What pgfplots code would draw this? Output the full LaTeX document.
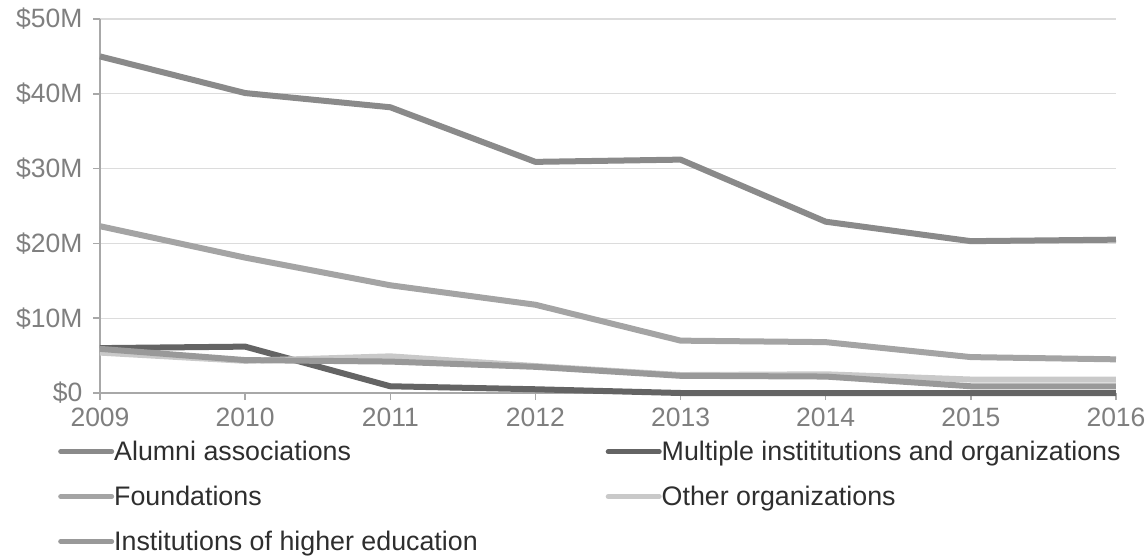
\documentclass[border=0pt]{standalone}
\usepackage{pgfplots}
\pgfplotsset{compat=1.18}
\usepackage{fontspec}
\setmainfont{Liberation Sans}

\definecolor{cAlumni}{HTML}{8A8A8A}
\definecolor{cMultiple}{HTML}{646464}
\definecolor{cFound}{HTML}{A4A4A4}
\definecolor{cOther}{HTML}{C9C9C9}
\definecolor{cInst}{HTML}{999999}
\definecolor{cGrid}{HTML}{DCDCDC}
\definecolor{cAxis}{HTML}{A8A8A8}
\definecolor{cTick}{HTML}{7F7F7F}
\definecolor{cLegend}{HTML}{2E2E2E}

\begin{document}
\begin{tikzpicture}
\begin{axis}[
  at={(0pt,0pt)}, anchor=south west,
  scale only axis,
  width=1016pt, height=374pt,
  xmin=2009, xmax=2016,
  ymin=0, ymax=50,
  clip=false,
  axis x line*=bottom,
  axis y line*=left,
  axis line style={draw=cAxis, line width=1.8pt},
  xtick={2009,2010,2011,2012,2013,2014,2015,2016},
  xticklabels={2009,2010,2011,2012,2013,2014,2015,2016},
  ytick={0,10,20,30,40,50},
  yticklabels={\$0,\$10M,\$20M,\$30M,\$40M,\$50M},
  tick align=outside,
  major tick length=7pt,
  tick style={draw=cAxis, line width=1.5pt},
  ymajorgrids,
  grid style={draw=cGrid, line width=1.3pt},
  ticklabel style={font=\fontsize{26.5}{30}\selectfont, text=cTick},
  xticklabel style={yshift=-4pt},
  yticklabel style={xshift=-7pt},
  legend columns=2,
  legend style={
    draw=none, fill=none,
    at={(-42pt,-48pt)}, anchor=north west,
    font=\fontsize{26.8}{30}\selectfont,
    text=cLegend,
    row sep=24pt,
    inner sep=0pt,
    nodes={inner sep=0pt, anchor=west},
    /tikz/column 2/.style={column sep=128pt},
  },
  legend cell align=left,
  legend image code/.code={\draw[line width=5pt, line cap=round] (0pt,0pt) -- (51pt,0pt);},
  every axis plot/.append style={line width=6pt, line join=round, mark=none},
]
% Alumni associations
\addplot[cAlumni] coordinates {
  (2009,45.0) (2010,40.1) (2011,38.2) (2012,30.9)
  (2013,31.2) (2014,22.9) (2015,20.3) (2016,20.5)};
\addlegendentry{Alumni associations}
% Multiple institutions and organizations
\addplot[cMultiple] coordinates {
  (2009,6.0) (2010,6.2) (2011,0.9) (2012,0.5)
  (2013,0.0) (2014,0.0) (2015,0.0) (2016,0.0)};
\addlegendentry{Multiple instititutions and organizations}
% Foundations
\addplot[cFound] coordinates {
  (2009,22.3) (2010,18.1) (2011,14.4) (2012,11.8)
  (2013,7.0) (2014,6.8) (2015,4.8) (2016,4.5)};
\addlegendentry{Foundations}
% Other organizations
\addplot[cOther] coordinates {
  (2009,5.4) (2010,4.3) (2011,4.9) (2012,3.6)
  (2013,2.4) (2014,2.5) (2015,1.8) (2016,1.8)};
\addlegendentry{Other organizations}
% Institutions of higher education
\addplot[cInst] coordinates {
  (2009,5.9) (2010,4.4) (2011,4.2) (2012,3.5)
  (2013,2.3) (2014,2.2) (2015,0.9) (2016,0.9)};
\addlegendentry{Institutions of higher education}
\end{axis}
\pgfresetboundingbox
\path (-100pt,-163pt) rectangle (1047pt,393pt);
\end{tikzpicture}
\end{document}
